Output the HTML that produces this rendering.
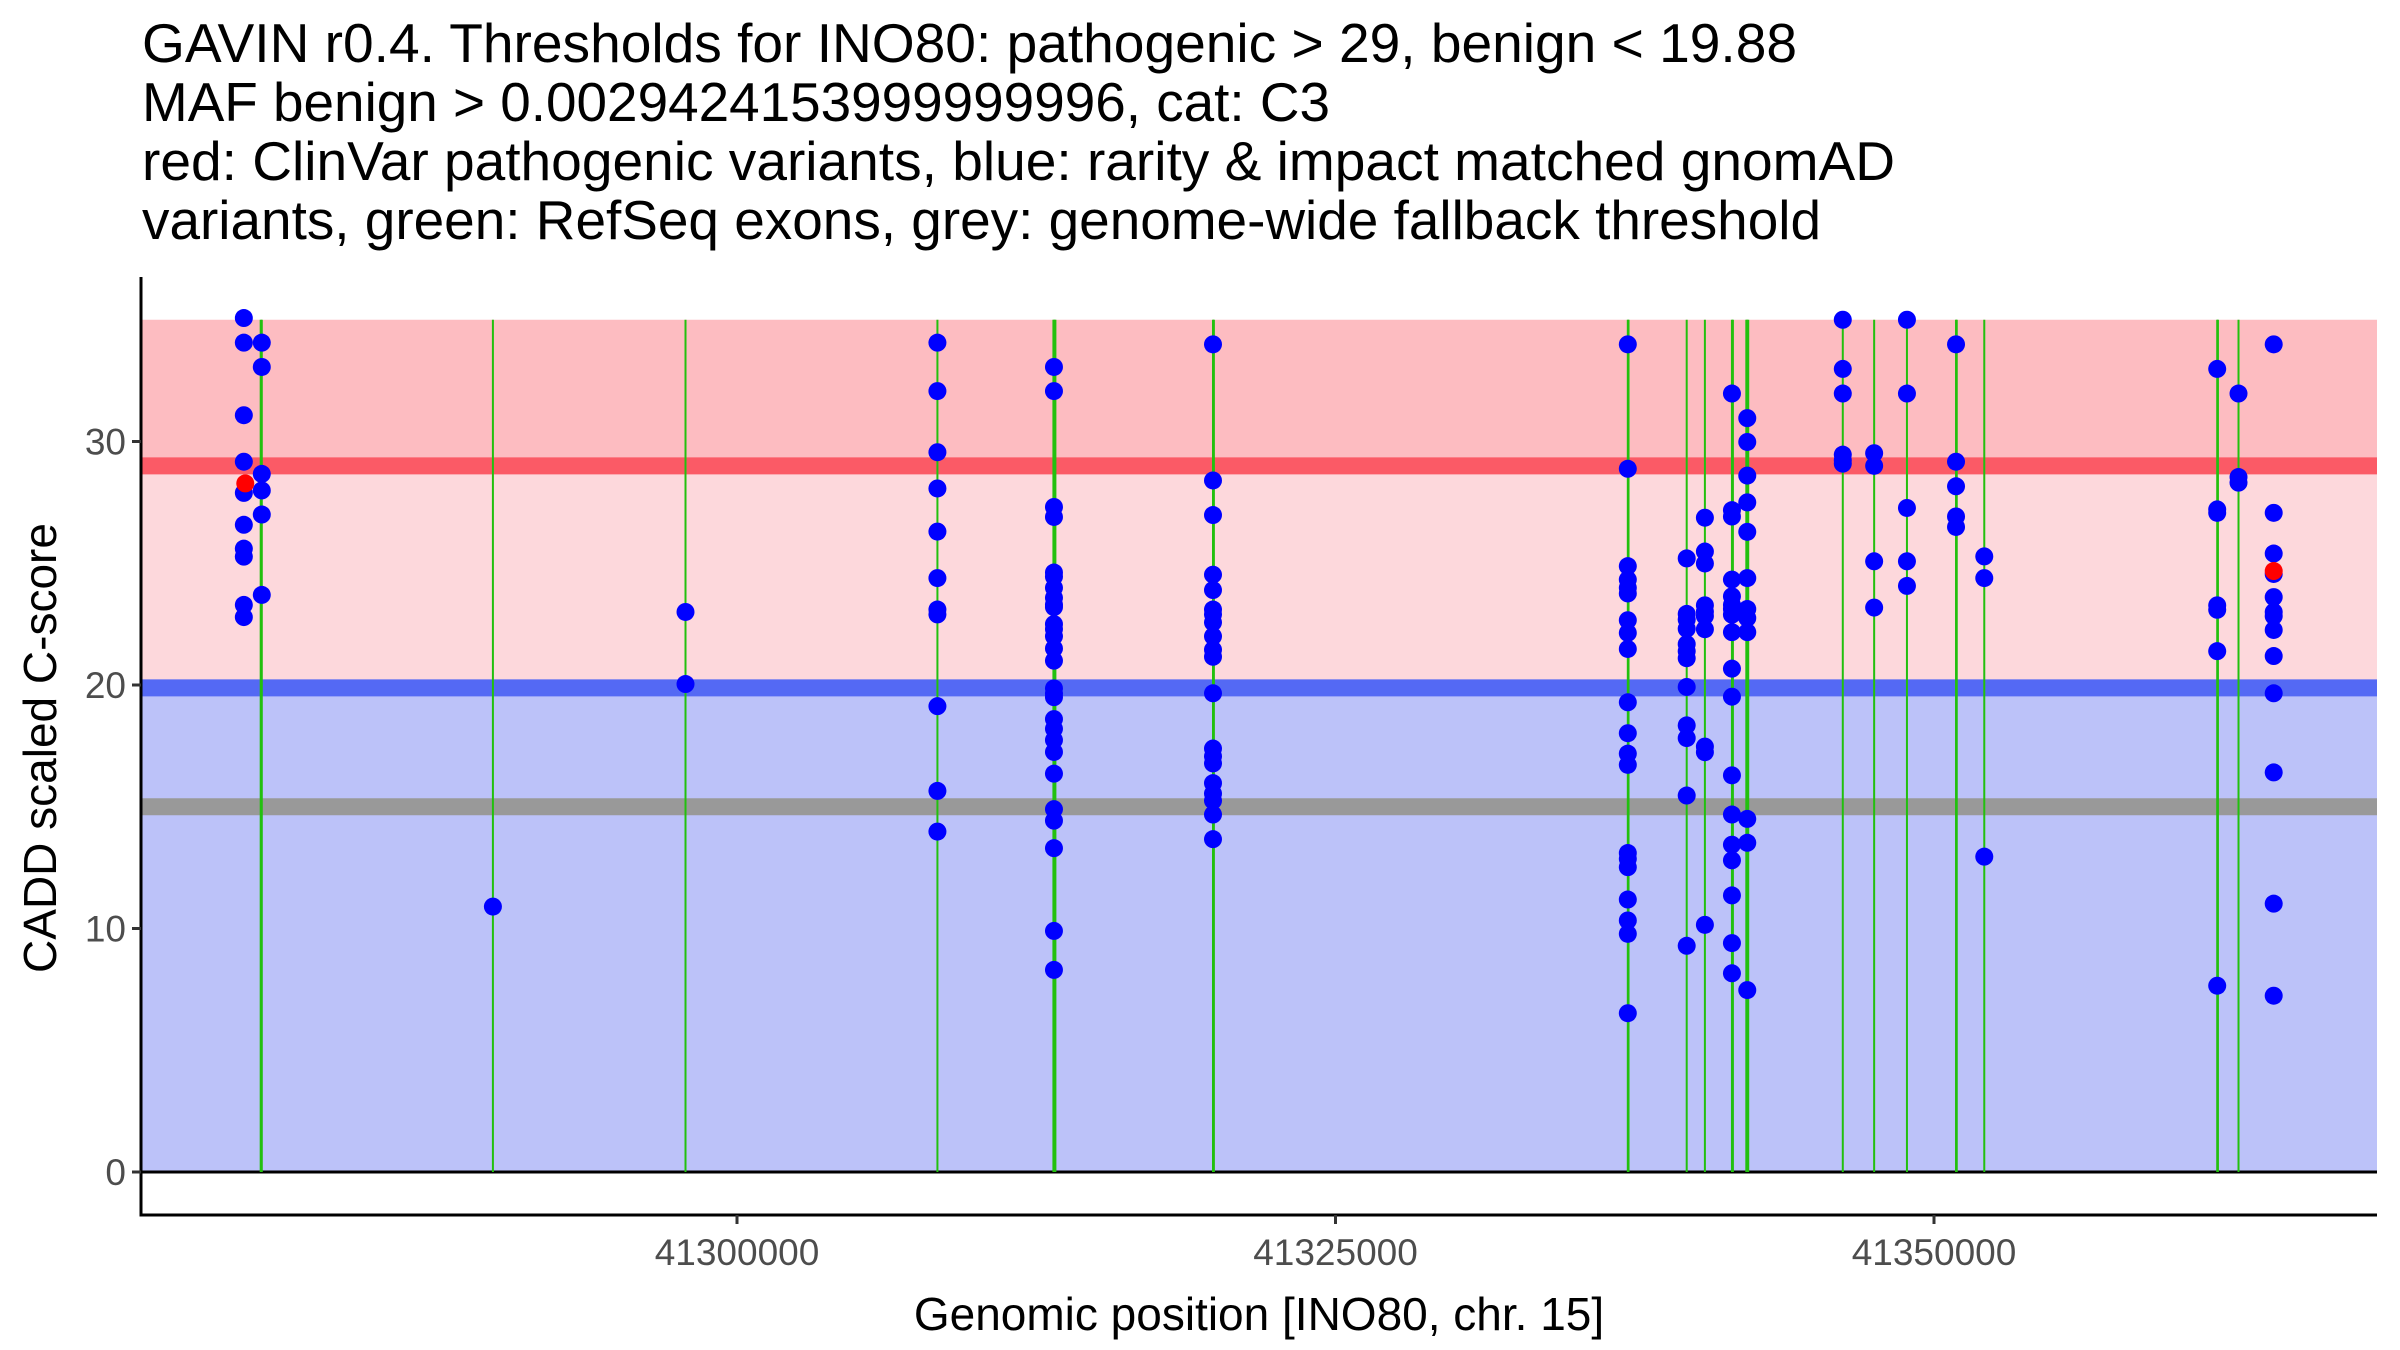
<!DOCTYPE html>
<html><head><meta charset="utf-8"><style>
html,body{margin:0;padding:0;background:#fff;}
svg{display:block;font-family:"Liberation Sans",Arial,sans-serif;}
</style></head><body>
<svg id="chart" width="2400" height="1350" viewBox="0 0 2400 1350" xmlns="http://www.w3.org/2000/svg">
<g font-size="55" fill="#000">
<text x="142" y="62" textLength="1655" lengthAdjust="spacingAndGlyphs">GAVIN r0.4. Thresholds for INO80: pathogenic &gt; 29, benign &lt; 19.88</text>
<text x="142" y="121" textLength="1188" lengthAdjust="spacingAndGlyphs">MAF benign &gt; 0.0029424153999999996, cat: C3</text>
<text x="142" y="180" textLength="1753" lengthAdjust="spacingAndGlyphs">red: ClinVar pathogenic variants, blue: rarity &amp; impact matched gnomAD</text>
<text x="142" y="239" textLength="1679" lengthAdjust="spacingAndGlyphs">variants, green: RefSeq exons, grey: genome-wide fallback threshold</text>
</g>
<g id="bands"></g>
<g id="exons"></g>
<g id="points"></g>
<g id="axes"></g>
<text x="0" y="0" font-size="46" text-anchor="middle" transform="translate(56,748) rotate(-90)">CADD scaled C-score</text>
<text x="1259" y="1330" font-size="46" text-anchor="middle">Genomic position [INO80, chr. 15]</text>
</svg>
<script>
// ---- data ----
const exonPositions = [41280104,41280150,41289804,41297849,41308372,41313217,41313260,41313300,41319883,41319920,41337210,41337240,41339670,41340430,41341560,41341600,41342160,41342200,41342240,41346190,41347500,41348870,41350920,41350950,41352100,41361830,41361860,41362720];
const blueX = [];
const blueY = [];
const colA=[35.07,34.06,31.08,29.17,27.89,26.58,25.6,25.27,23.29,22.79];
const colB=[34.06,33.06,28.67,27.99,27.0,23.7];
const colC=[10.9];
const colD=[23.0,20.04];
const colE=[34.06,32.07,29.56,28.07,26.3,24.39,23.1,22.9,19.13,15.65,13.98];
const colF=[33.06,32.07,27.31,26.9,24.62,24.45,23.99,23.58,23.3,23.2,22.5,22.3,22.0,21.5,21.0,19.86,19.65,19.5,18.6,18.2,17.74,17.25,16.36,14.9,14.43,13.3,9.9,8.3];
const colG=[33.99,28.4,26.98,24.53,23.9,23.1,22.9,22.57,22.0,21.45,21.16,19.66,17.39,17.07,16.78,15.97,15.54,15.25,14.68,13.67];
const colH=[33.99,28.88,24.88,24.33,23.99,23.76,22.66,22.14,21.48,19.29,18.02,17.18,16.72,13.1,12.86,12.52,11.19,10.33,9.78,6.52];
const colI=[25.2,22.92,22.69,22.31,21.68,21.39,21.1,19.92,18.34,17.82,15.46,9.29];
const colJ=[26.87,25.48,24.99,23.27,23.01,22.83,22.29,17.47,17.24,10.15];
const colK=[31.97,27.18,26.92,24.33,23.64,23.29,23.12,22.89,22.17,20.67,19.52,16.29,14.68,13.44,12.8,11.36,9.4,8.16];
const colL=[30.96,29.98,28.6,27.5,26.29,24.39,23.12,22.75,22.17,14.5,13.52,7.47];
const colM=[35.0,32.98,31.97,29.46,29.23,29.09];
const colN=[29.52,29.0,25.08,23.18];
const colO=[35.0,31.97,27.27,25.08,24.07];
const colP=[33.99,29.17,28.16,26.92,26.49];
const colQ=[25.28,24.39,12.95];
const colR=[32.98,27.21,27.07,23.27,23.09,21.39,7.65];
const colS=[31.97,28.54,28.31];
const colT=[33.99,27.07,25.4,24.56,23.61,23.0,22.83,22.26,21.19,19.66,16.41,11.02,7.24];
const colPositions=[41279400,41280150,41289804,41297849,41308372,41313240,41319883,41337210,41339670,41340430,41341560,41342200,41346190,41347500,41348870,41350920,41352100,41361830,41362720,41364190];
const colValues=[colA,colB,colC,colD,colE,colF,colG,colH,colI,colJ,colK,colL,colM,colN,colO,colP,colQ,colR,colS,colT];
const redX=[41279460,41364190];
const redY=[28.28,24.68];
const pathogenicThreshold=29;
const benignThreshold=19.88;
const fallbackThreshold=15;
const bandTop=35;
const xTicks=[41300000,41325000,41350000];
const yTicks=[0,10,20,30];

// ---- scales ----
const PL=141, PR=2377, PT=277, PB=1215;
function sx(p){return 737+(p-41300000)*0.02394;}
function sy(v){return 1172-v*24.35;}
const NS="http://www.w3.org/2000/svg";
function mk(tag,attrs,parent){const e=document.createElementNS(NS,tag);for(const k in attrs)e.setAttribute(k,attrs[k]);parent.appendChild(e);return e;}

colValues.forEach((arr,i)=>arr.forEach(v=>{blueX.push(colPositions[i]);blueY.push(v);}));

const bands=document.getElementById('bands');
let r;
r=mk('rect',{x:PL,y:sy(bandTop),width:PR-PL,height:sy(pathogenicThreshold)-sy(bandTop),fill:'#fdbcc1'},bands);


r=mk('rect',{x:PL,y:sy(pathogenicThreshold),width:PR-PL,height:sy(benignThreshold)-sy(pathogenicThreshold),fill:'#fdd8dc'},bands);


r=mk('rect',{x:PL,y:sy(benignThreshold),width:PR-PL,height:sy(0)-sy(benignThreshold),fill:'#bcc2f9'},bands);


r=mk('line',{x1:PL,x2:PR,y1:sy(pathogenicThreshold),y2:sy(pathogenicThreshold),stroke:'#fb5a66','stroke-width':17},bands);


r=mk('line',{x1:PL,x2:PR,y1:sy(benignThreshold),y2:sy(benignThreshold),stroke:'#5469f4','stroke-width':17},bands);


r=mk('line',{x1:PL,x2:PR,y1:sy(fallbackThreshold),y2:sy(fallbackThreshold),stroke:'#999999','stroke-width':17},bands);


r=mk('line',{x1:PL,x2:PR,y1:sy(0),y2:sy(0),stroke:'#000','stroke-width':3},bands);



const ex=document.getElementById('exons');
exonPositions.forEach(p=>{
  const l=mk('line',{x1:sx(p),x2:sx(p),y1:sy(bandTop),y2:sy(0),stroke:'#22c00e','stroke-width':2},ex);
  
  
});

const pts=document.getElementById('points');
blueX.forEach((p,i)=>{
  const c=mk('circle',{cx:sx(p),cy:sy(blueY[i]),r:9,fill:'#0000ff'},pts);
  
  
});
redX.forEach((p,i)=>{
  const c=mk('circle',{cx:sx(p),cy:sy(redY[i]),r:9,fill:'#ff0000'},pts);
  
  
});

const ax=document.getElementById('axes');
let a=mk('line',{x1:PL,x2:PL,y1:PT,y2:PB+1.5,stroke:'#000','stroke-width':3},ax);


a=mk('line',{x1:PL-1.5,x2:PR,y1:PB,y2:PB,stroke:'#000','stroke-width':3},ax);


yTicks.forEach(v=>{
  const t=mk('line',{x1:PL-9,x2:PL,y1:sy(v),y2:sy(v),stroke:'#333','stroke-width':3},ax);
  
  
  const lb=mk('text',{x:PL-15,y:sy(v)+13,'font-size':37,fill:'#4d4d4d','text-anchor':'end'},ax);
  lb.textContent=String(v);
  
  
});
xTicks.forEach(v=>{
  const t=mk('line',{x1:sx(v),x2:sx(v),y1:PB,y2:PB+9,stroke:'#333','stroke-width':3},ax);
  
  
  const lb=mk('text',{x:sx(v),y:PB+50,'font-size':37,fill:'#4d4d4d','text-anchor':'middle'},ax);
  lb.textContent=String(v);
  
  
});
</script>
</body></html>
